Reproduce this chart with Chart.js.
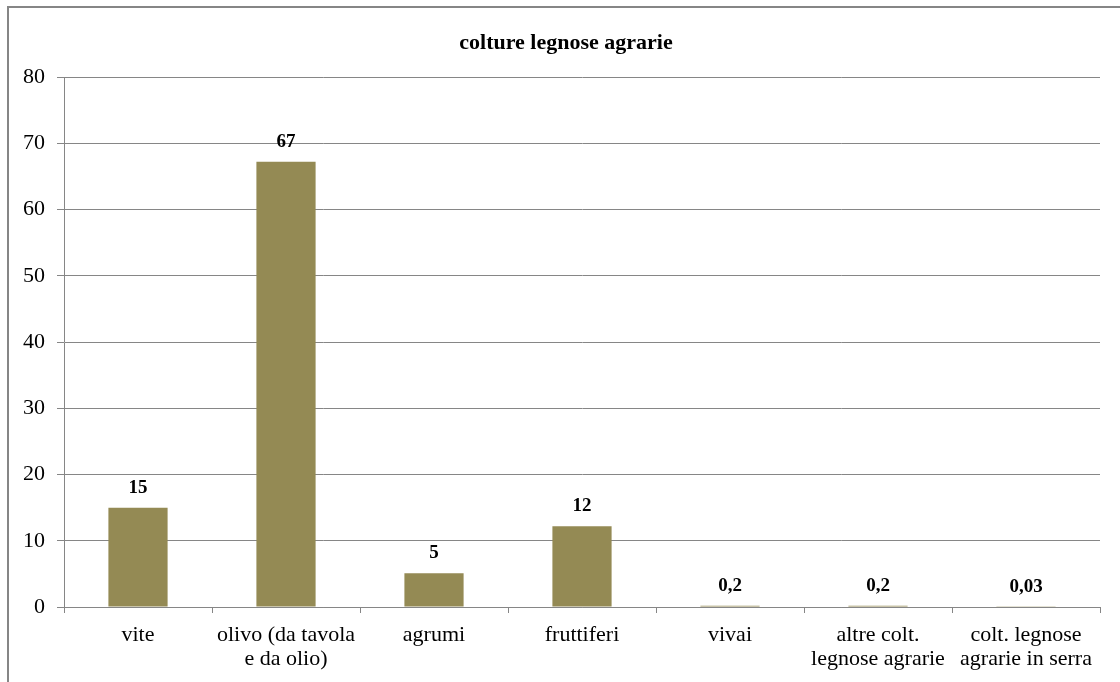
<!DOCTYPE html>
<html>
<head>
<meta charset="utf-8">
<script src="https://cdn.jsdelivr.net/npm/chart.js@4"></script>
<style>
  html, body { margin: 0; padding: 0; background: #fff; overflow: hidden; }
  #frame {
    position: absolute; left: 7px; top: 6px;
    width: 1140px; height: 700px;
    border: 2px solid #868686;
    box-sizing: border-box;
  }
  #box { position: absolute; left: -1px; top: -1px; width: 1116px; height: 675px; }
</style>
</head>
<body>
<div id="frame"><div id="box"><canvas id="chart"></canvas></div></div>
<script>
const chartTitle = 'colture legnose agrarie';
const categories = [
  ['vite'],
  ['olivo (da tavola', 'e da olio)'],
  ['agrumi'],
  ['fruttiferi'],
  ['vivai'],
  ['altre colt.', 'legnose agrarie'],
  ['colt. legnose', 'agrarie in serra']
];
const values = [15, 67.2, 5.1, 12.2, 0.2, 0.2, 0.03];
const yTicks = [0, 10, 20, 30, 40, 50, 60, 70, 80];

const gridGrey = '#868686';
const barColor = '#948A54';
const serif = "'Liberation Serif', 'Times New Roman', serif";

const fmt = (v) => v >= 1 ? String(Math.round(v)) : String(v).replace('.', ',');

// title centred on the whole frame, not on the padded layout box
const frameTitle = {
  id: 'frameTitle',
  afterDraw(chart) {
    const ctx = chart.ctx;
    ctx.save();
    ctx.font = 'bold 22px ' + serif;
    ctx.fillStyle = '#000';
    ctx.textAlign = 'center';
    ctx.textBaseline = 'middle';
    ctx.fillText(chartTitle, chart.width / 2, 36);
    ctx.restore();
  }
};

const valueLabels = {
  id: 'valueLabels',
  afterDatasetsDraw(chart) {
    const ctx = chart.ctx;
    const meta = chart.getDatasetMeta(0);
    ctx.save();
    ctx.font = 'bold 19px ' + serif;
    ctx.fillStyle = '#000';
    ctx.textAlign = 'center';
    ctx.textBaseline = 'middle';
    meta.data.forEach((bar, i) => {
      ctx.fillText(fmt(values[i]), bar.x, bar.y - 20);
    });
    ctx.restore();
  }
};

new Chart(document.getElementById('chart'), {
  type: 'bar',
  data: {
    labels: categories,
    datasets: [{
      data: values,
      backgroundColor: barColor,
      borderWidth: 0,
      categoryPercentage: 1,
      barPercentage: 0.4
    }]
  },
  options: {
    responsive: true,
    maintainAspectRatio: false,
    animation: false,
    layout: { padding: { left: 0, right: 24, top: 70, bottom: 0 } },
    plugins: {
      legend: { display: false },
      tooltip: { enabled: false },
      title: { display: false }
    },
    scales: {
      x: {
        afterFit(scale) { scale.height = 75; },
        border: { display: true, color: gridGrey, width: 1 },
        grid: { drawOnChartArea: false, drawTicks: true, tickLength: 6, color: gridGrey, offset: true },
        ticks: {
          color: '#000',
          font: { family: serif, size: 22, lineHeight: 1.1 },
          padding: 10,
          maxRotation: 0,
          autoSkip: false
        }
      },
      y: {
        min: 0,
        max: 80,
        afterFit(scale) { scale.width = 56; },
        afterBuildTicks(scale) { scale.ticks = yTicks.map(v => ({ value: v })); },
        border: { display: true, color: gridGrey, width: 1 },
        grid: { color: gridGrey, lineWidth: 1, tickLength: 7, drawTicks: true },
        ticks: {
          color: '#000',
          font: { family: serif, size: 22 },
          padding: 12
        }
      }
    }
  },
  plugins: [valueLabels, frameTitle]
});
</script>
</body>
</html>
